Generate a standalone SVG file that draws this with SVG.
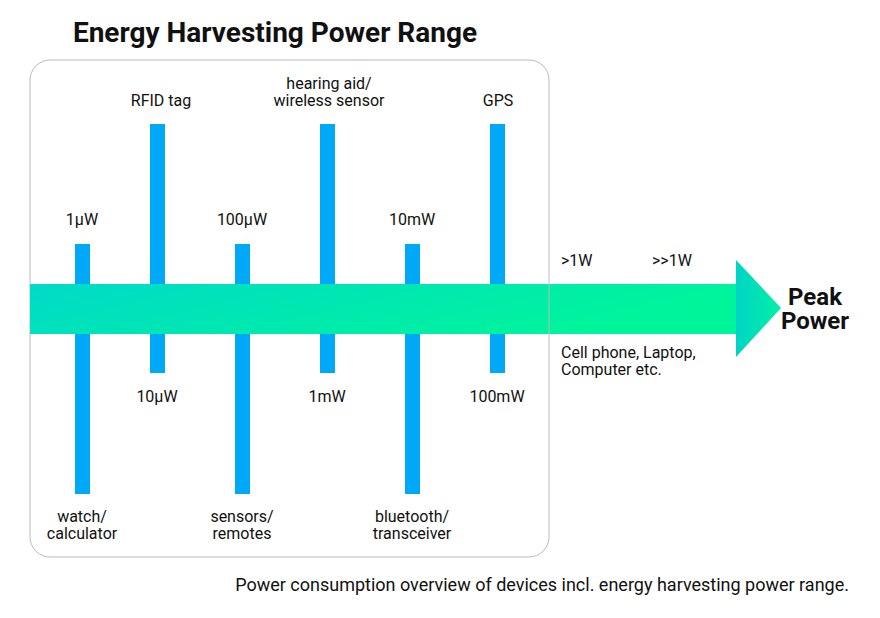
<svg xmlns="http://www.w3.org/2000/svg" width="880" height="618" viewBox="0 0 880 618">
<defs>
<linearGradient id="shaft" x1="0" y1="0" x2="1" y2="0.3">
<stop offset="0" stop-color="#00DAC8"/>
<stop offset="1" stop-color="#00F59A"/>
</linearGradient>
<linearGradient id="head" x1="0" y1="0" x2="1" y2="0">
<stop offset="0" stop-color="#00D4C6"/>
<stop offset="1" stop-color="#00F0A4"/>
</linearGradient>
<style>
.t{font-family:Roboto,"Liberation Sans",sans-serif;font-size:16px;fill:#111;text-anchor:middle}
.s{text-anchor:start}
.b{font-weight:bold}
.bar{fill:#00A9F7}
</style>
</defs>
<rect width="880" height="618" fill="#fff"/>
<text class="t b" x="275" y="42" style="font-size:28px">Energy Harvesting Power Range</text>
<g id="range-box">
<rect x="30" y="60" width="519" height="497" rx="20" fill="#fff" stroke="#bbb" stroke-width="1"/>
</g>
<g id="connectors">
<rect x="30" y="284" width="707" height="50" fill="url(#shaft)"/>
<polygon points="736,260 781,308 736,357" fill="url(#head)"/>
<line x1="549" y1="284" x2="549" y2="334" stroke="#bbb" stroke-width="1"/>
</g>
<g id="bar-1uW"><rect class="bar" x="75" y="244" width="15" height="40"/><rect class="bar" x="75" y="334" width="15" height="160"/>
<text class="t" x="82" y="225">1µW</text>
<text class="t" x="82" y="522">watch/</text><text class="t" x="82" y="539">calculator</text></g>
<g id="bar-10uW"><rect class="bar" x="150" y="124" width="15" height="160"/><rect class="bar" x="150" y="334" width="15" height="39"/>
<text class="t" x="161" y="106">RFID tag</text>
<text class="t" x="157" y="402">10µW</text></g>
<g id="bar-100uW"><rect class="bar" x="235" y="244" width="15" height="40"/><rect class="bar" x="235" y="334" width="15" height="160"/>
<text class="t" x="242" y="225">100µW</text>
<text class="t" x="242" y="522">sensors/</text><text class="t" x="242" y="539">remotes</text></g>
<g id="bar-1mW"><rect class="bar" x="320" y="124" width="15" height="160"/><rect class="bar" x="320" y="334" width="15" height="39"/>
<text class="t" x="329" y="89">hearing aid/</text><text class="t" x="329" y="106">wireless sensor</text>
<text class="t" x="327" y="402">1mW</text></g>
<g id="bar-10mW"><rect class="bar" x="405" y="244" width="15" height="40"/><rect class="bar" x="405" y="334" width="15" height="160"/>
<text class="t" x="412" y="225">10mW</text>
<text class="t" x="412" y="522">bluetooth/</text><text class="t" x="412" y="539">transceiver</text></g>
<g id="bar-100mW"><rect class="bar" x="490" y="124" width="15" height="160"/><rect class="bar" x="490" y="334" width="15" height="39"/>
<text class="t" x="498" y="106">GPS</text>
<text class="t" x="497" y="402">100mW</text></g>
<g id="peak">
<text class="t s" x="561" y="266">&gt;1W</text>
<text class="t s" x="652" y="266">&gt;&gt;1W</text>
<text class="t s" x="561" y="358">Cell phone, Laptop,</text>
<text class="t s" x="561" y="375">Computer etc.</text>
<text class="t b" x="815" y="305" style="font-size:24px">Peak</text>
<text class="t b" x="815" y="329" style="font-size:24px">Power</text>
</g>
<text class="t" x="849" y="591" style="text-anchor:end;font-size:18px">Power consumption overview of devices incl. energy harvesting power range.</text>
</svg>
